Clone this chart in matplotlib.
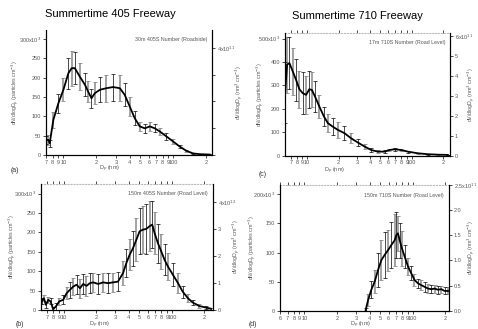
import matplotlib
matplotlib.use("Agg")
import matplotlib.pyplot as plt
from matplotlib.ticker import FixedLocator

plt.rcParams['font.family'] = ['Liberation Sans', 'DejaVu Sans']

# (a) Summertime 405, 30 m
dp_a = [7.0, 7.3, 7.5, 8.1, 9.0, 10.0, 11.1, 11.9, 12.7, 14.1, 15.7, 16.8, 18.0, 19.3,
        21.5, 24.6, 28.3, 32.6, 36.1, 40.2, 44.6, 49.5, 55.0, 61.1, 67.8, 75.3, 86.5,
        99.5, 114, 131, 151, 174, 214]
n_a = [39, 39, 30, 91, 134, 169, 212, 225, 225, 203, 182, 164, 147, 160, 169, 173, 176,
       173, 156, 125, 95, 74, 69, 74, 69, 61, 48, 35, 22, 11, 4, 2, 1]
err_a = [10, 12, 10, 20, 25, 30, 40, 45, 42, 35, 30, 28, 25, 28, 32, 35, 35, 33, 30, 25,
         18, 12, 12, 12, 10, 9, 8, 7, 5, 3, 2, 1, 1]

# (c) Summertime 710, 17 m
dp_c = [6.15, 6.43, 6.77, 7.29, 7.84, 8.44, 9.09, 9.78, 10.5, 11.1, 11.9, 13.1, 14.5,
        15.8, 17.6, 19.7, 22.8, 26.4, 30.6, 35.5, 41.1, 47.6, 55.1, 61.5, 68.7, 79.6,
        92.2, 115, 143, 179, 223]
n_c = [270, 389, 396, 360, 324, 284, 267, 260, 284, 281, 253, 210, 167, 139, 124, 110,
       96, 74, 56, 39, 24, 17, 17, 24, 27, 24, 17, 10, 6, 4, 3]
err_c = [130, 120, 110, 100, 90, 80, 90, 80, 80, 75, 65, 50, 40, 40, 35, 35, 30, 22,
         15, 10, 8, 5, 5, 6, 6, 5, 4, 3, 2, 1, 1]

# (b) Summertime 405, 150 m
dp_b = [6.22, 6.54, 6.82, 7.17, 7.53, 7.97, 8.44, 9.06, 9.86, 10.6, 11.4, 12.2, 13.1,
        14.1, 15.1, 16.2, 17.4, 18.7, 20.8, 23.1, 25.6, 28.5, 31.7, 35.3, 37.9, 40.6,
        43.6, 46.9, 50.3, 54.0, 58.0, 62.2, 65.8, 69.2, 74.3, 79.7, 85.6, 91.9, 102,
        114, 126, 141, 156, 180, 207, 231]
n_b = [22, 30, 13, 26, 22, 2, 9, 22, 26, 43, 52, 60, 65, 56, 67, 62, 69, 71, 67, 71, 69,
       71, 73, 95, 121, 142, 159, 181, 203, 207, 209, 216, 220, 198, 172, 151, 129, 112,
       91, 69, 47, 30, 19, 10, 6, 3]
err_b = [8, 8, 8, 8, 8, 6, 8, 10, 12, 15, 20, 22, 25, 25, 25, 25, 25, 25, 25, 25, 25,
         25, 25, 30, 35, 40, 45, 55, 60, 60, 65, 65, 60, 55, 50, 45, 40, 35, 30, 25, 15,
         10, 6, 4, 3, 2]

# (d) Summertime 710, 150 m
dp_d = [36.8, 38.7, 41.5, 44.6, 47.9, 51.4, 55.2, 59.2, 63.6, 68.2, 70.7, 73.2, 75.9,
        79.7, 84.4, 90.6, 97.2, 104, 112, 120, 129, 139, 149, 160, 171, 184, 197, 212]
n_d = [1, 18, 36, 50, 70, 87, 96, 104, 113, 121, 130, 133, 121, 107, 93, 76, 64, 53,
       47, 44, 41, 38, 37, 38, 36, 37, 34, 34]
err_d = [3, 10, 15, 20, 30, 35, 40, 35, 40, 45, 40, 30, 30, 30, 20, 15, 12, 10, 8, 8,
         8, 8, 7, 7, 7, 6, 6, 6]

GRAY = '#8a8a8a'
TXT = '#555555'
W = 478


def xlab(v):
    if v in (10, 100):
        return str(int(v))
    return str(int(v))[0]


def panel(rect, dp, n, err, xlim, ymax, yt, ytl, rmax, rt, rtl, note, lpos, rpos,
          top=True):
    ax = fig.add_axes(rect)
    wpx = rect[2] * W
    ax.set_xscale('log')
    ax.plot(dp, n, color='black', lw=1.3, zorder=3)
    ax.errorbar(dp[1::2], n[1::2], yerr=err[1::2], fmt='none', ecolor=GRAY,
                elinewidth=1.1, capsize=1.2, capthick=0.6, zorder=2)
    ax.errorbar(dp[0::2], n[0::2], yerr=err[0::2], fmt='none', ecolor='black',
                elinewidth=0.5, capsize=1.2, capthick=0.5, zorder=2)
    ax.set_xlim(*xlim)
    ax.set_ylim(0, ymax)
    ticks = [v * d for d in (1, 10, 100) for v in range(1, 10)]
    ticks = [t for t in ticks if xlim[0] <= t <= xlim[1]]
    ax.xaxis.set_major_locator(FixedLocator(ticks))
    ax.xaxis.set_minor_locator(FixedLocator([]))
    ax.set_xticklabels([xlab(t) for t in ticks])
    ax.set_yticks(yt)
    ax.set_yticklabels(ytl)
    ax.tick_params(labelsize=4, colors='black', labelcolor=TXT, length=2, width=0.5,
                   pad=1.5)
    ax.tick_params(axis='x', top=top, direction='out')
    for s in ('left', 'bottom', 'right'):
        ax.spines[s].set_linewidth(0.8)
    ax.spines['top'].set_visible(top)
    ax.spines['top'].set_color('#bbbbbb')
    ax.spines['top'].set_linestyle(':')
    ax.set_ylabel('dN/dlogD$_p$ (particles cm$^{-3}$)', fontsize=3.8, color=TXT)
    ax.yaxis.set_label_coords(-lpos / wpx, 0.5)
    ax.text(0.97, 0.94, note, transform=ax.transAxes, ha='right', va='top',
            fontsize=3.8, color=TXT)
    r = ax.twinx()
    r.set_ylim(0, rmax)
    r.set_yticks(rt)
    r.set_yticklabels(rtl)
    r.tick_params(labelsize=4, labelcolor=TXT, length=2, width=0.5, pad=1.5)
    r.spines['top'].set_visible(False)
    r.spines['right'].set_linewidth(0.8)
    r.set_ylabel('dV/dlogD$_p$ (nm$^3$ cm$^{-3}$)', fontsize=3.8, color=TXT,
                 rotation=90)
    r.yaxis.set_label_coords(1 + rpos / wpx, 0.5)
    return ax


fig = plt.figure(figsize=(4.78, 3.29), dpi=100)

panel([0.0956, 0.529, 0.348, 0.380], dp_a, n_a, err_a, (6.9, 225), 324,
      [0, 50, 100, 150, 200, 250, 300],
      ['0', '50', '100', '150', '200', '250', '300x10$^3$'],
      4.67, [0, 1, 2, 3, 4], ['', '', '', '', '4x10$^{11}$'],
      '30m 405S Number (Roadside)', 25, 21, top=False)
panel([0.5956, 0.527, 0.346, 0.373], dp_c, n_c, err_c, (6.1, 234), 525,
      [0, 100, 200, 300, 400, 500],
      ['0', '100', '200', '300', '400', '500x10$^3$'],
      6.15, [0, 1, 2, 3, 4, 5, 6], ['0', '1', '2', '3', '4', '5', '6x10$^{11}$'],
      '17m 710S Number (Road Level)', 19, 15)
panel([0.0851, 0.058, 0.360, 0.383], dp_b, n_b, err_b, (6.1, 239), 325,
      [0, 50, 100, 150, 200, 250, 300],
      ['0', '50', '100', '150', '200', '250', '300x10$^3$'],
      4.67, [0, 1, 2, 3, 4], ['0', '1', '2', '3', '4x10$^{12}$'],
      '150m 405S Number (Road Level)', 23, 18)
panel([0.585, 0.0556, 0.354, 0.382], dp_d, n_d, err_d, (5.9, 216), 216,
      [0, 50, 100, 150, 200],
      ['0', '50', '100', '150', '200x10$^3$'],
      2.5, [0, 0.5, 1.0, 1.5, 2.0, 2.5],
      ['0.0', '0.5', '1.0', '1.5', '2.0', '2.5x10$^{11}$'],
      '150m 710S Number (Road Level)', 22, 17)

fig.text(110 / W, 1 - 14 / 329, 'Summertime 405 Freeway', ha='center', va='center',
         fontsize=8)
fig.text(357 / W, 1 - 16 / 329, 'Summertime 710 Freeway', ha='center', va='center',
         fontsize=8)
for x, y, s in [(15, 171, '(a)'), (263, 174, '(c)'), (20, 325, '(b)'), (253, 325, '(d)')]:
    fig.text(x / W, 1 - y / 329, s, ha='center', va='center', fontsize=5, color='#333333')
for x, y in [(110, 169), (335, 171), (100, 325), (361, 325)]:
    fig.text(x / W, 1 - y / 329, 'D$_p$ (nm)', ha='center', va='center', fontsize=4,
             color=TXT)

fig.savefig('out.png', dpi=100)
